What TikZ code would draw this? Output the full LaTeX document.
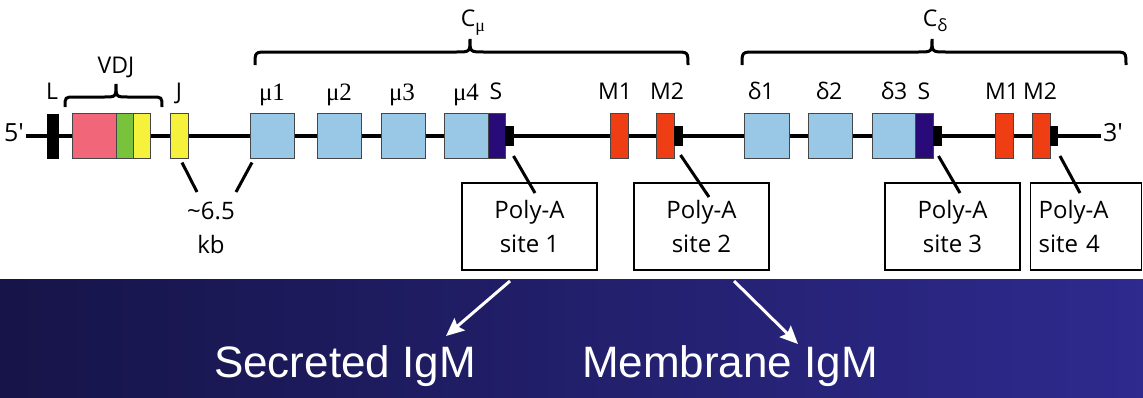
\documentclass[tikz,border=0pt]{standalone}
\usepackage{fontspec}
\setmainfont{Open Sans}
\newfontfamily\serifgr{Liberation Serif}
\newfontfamily\arialf{Liberation Sans}
\usetikzlibrary{calc,arrows.meta}
\definecolor{vred}{RGB}{242,102,122}
\definecolor{dgreen}{RGB}{120,194,60}
\definecolor{jyellow}{RGB}{246,242,60}
\definecolor{lblue}{RGB}{152,200,230}
\definecolor{spurple}{RGB}{40,10,120}
\definecolor{mred}{RGB}{240,62,20}
\definecolor{bandL}{RGB}{22,20,72}
\definecolor{bandR}{RGB}{46,42,142}
\definecolor{edge}{RGB}{70,70,70}
\begin{document}
\begin{tikzpicture}[x=1pt,y=-1pt,
  exon/.style={draw=edge, line width=1pt, minimum height=45pt, inner sep=0pt, outer sep=0pt, anchor=west},
  tail/.style={fill=black, minimum width=9pt, minimum height=20pt, inner sep=0pt, outer sep=0pt, anchor=west},
  lbl/.style={font=\fontsize{23}{27}\selectfont, anchor=base, inner sep=0pt},
  glbl/.style={font=\serifgr\fontsize{25}{29}\selectfont, anchor=base, inner sep=0pt},
  endlbl/.style={font=\fontsize{25}{29}\selectfont, inner sep=2pt},
  pabox/.style={draw=black, line width=1.2pt, fill=white, minimum width=135pt, minimum height=87pt, inner sep=0pt, align=center, font=\fontsize{24}{34}\selectfont},
  dna/.style={line width=3.2pt},
  brc/.style={line width=3pt},
  palink/.style={line width=3pt},
  bigarrow/.style={white, line width=3pt, -{Stealth[length=18pt,width=16pt,inset=3pt]}},
  bottomtxt/.style={text=white, font=\arialf\fontsize{44}{50}\selectfont, anchor=base, inner sep=0pt}]
\useasboundingbox (0,0) rectangle (1143,397);
\fill[white] (0,0) rectangle (1143,397);
\shade[left color=bandL, right color=bandR] (0,279) rectangle (1143,397);

% ends of the DNA
\node[endlbl] (five) at (14,133) {5′};
\node[endlbl] (three) at (1113,133) {3′};
\draw[dna] (five.east |- 0,136) -- (three.west |- 0,136);

% exons
\node[tail, minimum width=12pt, minimum height=45pt] (L) at (47,136) {};
\node[exon, fill=vred, minimum width=44pt] (V) at (72,136) {};
\node[exon, fill=dgreen, minimum width=17pt] (D) at (116,136) {};
\node[exon, fill=jyellow, minimum width=17pt] (J1) at (133,136) {};
\node[exon, fill=jyellow, minimum width=18pt] (J2) at (170,136) {};
\node[exon, fill=lblue, minimum width=44pt] (mu1) at (250,136) {};
\node[exon, fill=lblue, minimum width=44pt] (mu2) at (317,136) {};
\node[exon, fill=lblue, minimum width=44pt] (mu3) at (381,136) {};
\node[exon, fill=lblue, minimum width=44pt] (mu4) at (444,136) {};
\node[exon, fill=spurple, minimum width=17pt] (Smu) at (488,136) {};
\node[tail] (pa1) at (505,136) {};
\node[exon, fill=mred, minimum width=18pt] (M1a) at (610,136) {};
\node[exon, fill=mred, minimum width=18pt] (M2a) at (656,136) {};
\node[tail] (pa2) at (674,136) {};
\node[exon, fill=lblue, minimum width=45pt] (d1) at (744,136) {};
\node[exon, fill=lblue, minimum width=44pt] (d2) at (808,136) {};
\node[exon, fill=lblue, minimum width=43pt] (d3) at (872,136) {};
\node[exon, fill=spurple, minimum width=18pt] (Sd) at (915,136) {};
\node[tail] (pa3) at (933,136) {};
\node[exon, fill=mred, minimum width=18pt] (M1b) at (995,136) {};
\node[exon, fill=mred, minimum width=18pt] (M2b) at (1032,136) {};
\node[tail, minimum width=8pt] (pa4) at (1050,136) {};

% labels
\node[lbl] (tL) at (52,99) {L};
\node[lbl] (tVDJ) at (116,73) {VDJ};
\node[lbl] (tJ) at (179,99) {J};
\node[glbl] (tmu1) at (272,100) {μ1};
\node[glbl] (tmu2) at (339,100) {μ2};
\node[glbl] (tmu3) at (402,100) {μ3};
\node[glbl] (tmu4) at (466,100) {μ4};
\node[lbl] (tS1) at (496,99) {S};
\node[lbl] (tM1a) at (615,99) {M1};
\node[lbl] (tM2a) at (667,99) {M2};
\node[lbl] (td1) at (761,99) {δ1};
\node[lbl] (td2) at (829,99) {δ2};
\node[lbl] (td3) at (894,99) {δ3};
\node[lbl] (tS2) at (924,99) {S};
\node[lbl] (tM1b) at (1002,99) {M1};
\node[lbl] (tM2b) at (1040,99) {M2};
\node[lbl] (tCmu) at (473,26) {C\raisebox{-5pt}{\serifgr\fontsize{18}{20}\selectfont μ}};
\node[lbl] (tCd) at (935,26) {C\raisebox{-5pt}{\fontsize{17}{20}\selectfont δ}};

% braces
\draw[brc] (65,107) .. controls (65,97) .. (75,97) -- (104,97)
  .. controls (116,97) .. (116,84) .. controls (116,97) .. (128,97)
  -- (152,97) .. controls (162,97) .. (162,107);
\draw[brc] (255,65) .. controls (255,52) .. (268,52) -- (456,52)
  .. controls (470,52) .. (470,39) .. controls (470,52) .. (484,52)
  -- (675,52) .. controls (688,52) .. (688,65);
\draw[brc] (742,65) .. controls (742,52) .. (755,52) -- (918,52)
  .. controls (932,52) .. (932,39) .. controls (932,52) .. (946,52)
  -- (1113,52) .. controls (1126,52) .. (1126,65);

% ~6.5 kb
\node[align=center, inner sep=0pt, font=\fontsize{24}{34}\selectfont] (kb) at (211,228) {\textasciitilde6.5\\kb};
\coordinate (kbL) at (197,192);
\coordinate (kbR) at (236,192);
\draw[palink] ($(J2.south)+(3,4)$) -- (kbL);
\draw[palink] ($(mu1.south west)+(2,4)$) -- (kbR);

% poly-A boxes
\node[pabox] (box1) at (529.5,226.5) {Poly-A\\site 1};
\node[pabox] (box2) at (701.5,226.5) {Poly-A\\site 2};
\node[pabox] (box3) at (952.5,226.5) {Poly-A\\site 3};
\node[pabox, minimum width=111pt, text width=95pt, align=left, inner xsep=8pt, anchor=west] (box4) at (1030,226.5) {Poly-A\\site 4};

\coordinate (e1) at (535,193);
\coordinate (e2) at (709,197);
\coordinate (e3) at (960,193);
\coordinate (e4) at (1080,193);
\draw[palink] ($(pa1.south)+(4,10)$) -- (e1);
\draw[palink] ($(pa2.south)+(2,9)$) -- (e2);
\draw[palink] ($(pa3.south)+(1,10)$) -- (e3);
\draw[palink] ($(pa4.south)+(6,10)$) -- (e4);

% bottom
\node[bottomtxt] (sec) at (345,377) {Secreted IgM};
\node[bottomtxt] (mem) at (730,377) {Membrane IgM};
\coordinate (a1s) at (510,281);
\coordinate (a1e) at (446,336);
\coordinate (a2s) at (734,281);
\coordinate (a2e) at (798,344);
\draw[bigarrow] (a1s) -- (a1e);
\draw[bigarrow] (a2s) -- (a2e);
\end{tikzpicture}
\end{document}
